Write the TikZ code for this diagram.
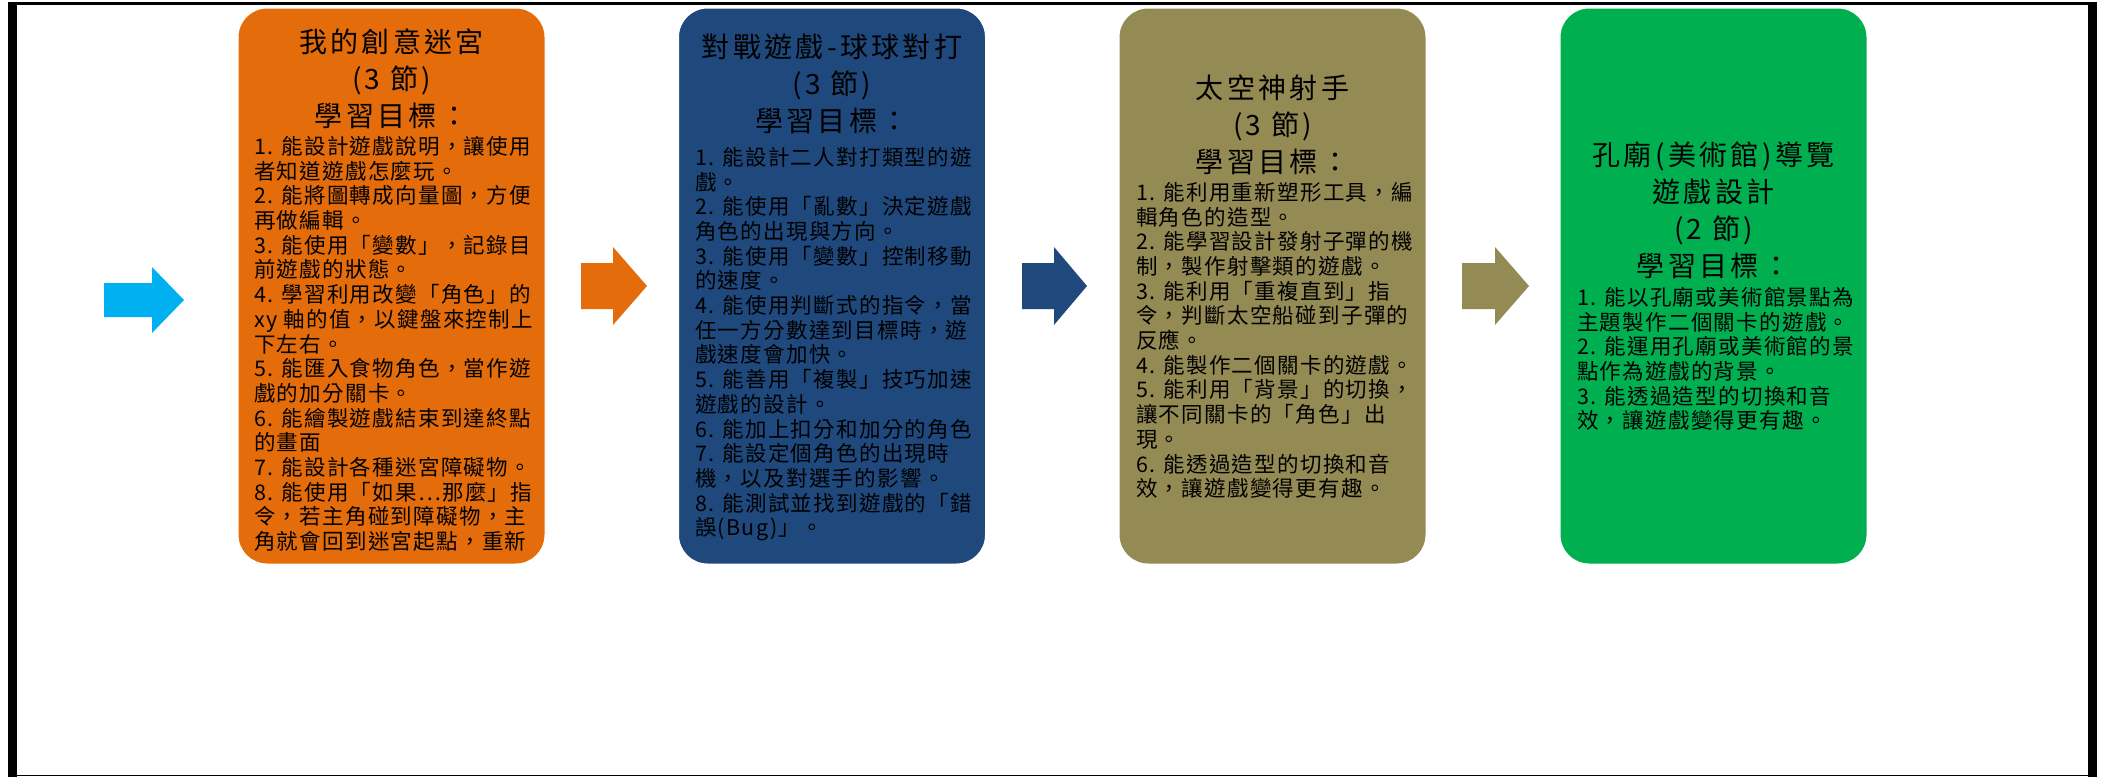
\documentclass[tikz,border=0pt]{standalone}
\usepackage{fontspec}
\setmainfont{Noto Sans CJK TC}
\newfontfamily\bodyfont[LetterSpace=6]{Noto Sans CJK TC}
\newfontfamily\headfont[LetterSpace=12]{Noto Sans CJK TC}
\definecolor{cOrange}{HTML}{E46C0A}
\definecolor{cBlue}{HTML}{1F497D}
\definecolor{cOlive}{HTML}{948A54}
\definecolor{cGreen}{HTML}{00B050}
\definecolor{cSky}{HTML}{00B0F0}
\begin{document}
\begin{tikzpicture}[x=1pt,y=-1pt,
  card/.style={draw=white,line width=3pt,rounded corners=30pt,minimum width=309pt,minimum height=558pt,inner sep=0pt},
  head/.style={anchor=north,align=center,inner sep=0pt,font=\headfont\fontsize{28}{37}\selectfont},
  body/.style={anchor=north west,align=left,inner sep=0pt,font=\bodyfont\fontsize{21.5}{24.7}\selectfont},
]
\useasboundingbox (0,0) rectangle (2105,777);
% frame
\fill (8,3) rectangle (17,777);
\fill (2088,3) rectangle (2097,777);
\draw[line width=3pt] (8,3.5) -- (2097,3.5);
\draw[line width=1.2pt] (8,775.5) -- (2097,775.5);
% cards
\node[card,fill=cOrange] (b1) at (391.5,286) {};
\node[card,fill=cBlue]   (b2) at (832,286) {};
\node[card,fill=cOlive]  (b3) at (1272.5,286) {};
\node[card,fill=cGreen]  (b4) at (1713.5,286) {};
% arrows
\fill[cSky] (104,283) -- (152,283) -- (152,267) -- (184,300) -- (152,333) -- (152,317) -- (104,317) -- cycle;
\fill[cOrange] (581,263) -- (613,263) -- (613,247) -- (647,286) -- (613,325) -- (613,309) -- (581,309) -- cycle;
\fill[cBlue] (1022,263) -- (1054,263) -- (1054,247) -- (1087,286) -- (1054,325) -- (1054,309) -- (1022,309) -- cycle;
\fill[cOlive] (1462,263) -- (1495,263) -- (1495,247) -- (1529,286) -- (1495,325) -- (1495,309) -- (1462,309) -- cycle;
% box 1
\node[head] (h1) at (391.5,29) {我的創意迷宮\\(3 節)\\學習目標：};
\node[body] (t1) at (254,136) {1. 能設計遊戲說明，讓使用\\
者知道遊戲怎麼玩。\\
2. 能將圖轉成向量圖，方便\\
再做編輯。\\
3. 能使用「變數」，記錄目\\
前遊戲的狀態。\\
4. 學習利用改變「角色」的\\
xy 軸的值，以鍵盤來控制上\\
下左右。\\
5. 能匯入食物角色，當作遊\\
戲的加分關卡。\\
6. 能繪製遊戲結束到達終點\\
的畫面\\
7. 能設計各種迷宮障礙物。\\
8. 能使用「如果…那麼」指\\
令，若主角碰到障礙物，主\\
角就會回到迷宮起點，重新};
% box 2
\node[head] (h2) at (832,34) {對戰遊戲-球球對打\\(3 節)\\學習目標：};
\node[body] (t2) at (695,147) {1. 能設計二人對打類型的遊\\
戲。\\
2. 能使用「亂數」決定遊戲\\
角色的出現與方向。\\
3. 能使用「變數」控制移動\\
的速度。\\
4. 能使用判斷式的指令，當\\
任一方分數達到目標時，遊\\
戲速度會加快。\\
5. 能善用「複製」技巧加速\\
遊戲的設計。\\
6. 能加上扣分和加分的角色\\
7. 能設定個角色的出現時\\
機，以及對選手的影響。\\
8. 能測試並找到遊戲的「錯\\
誤(Bug)」。};
% box 3
\node[head] (h3) at (1272.5,75) {太空神射手\\(3 節)\\學習目標：};
\node[body] (t3) at (1136,182) {1. 能利用重新塑形工具，編\\
輯角色的造型。\\
2. 能學習設計發射子彈的機\\
制，製作射擊類的遊戲。\\
3. 能利用「重複直到」指\\
令，判斷太空船碰到子彈的\\
反應。\\
4. 能製作二個關卡的遊戲。\\
5. 能利用「背景」的切換，\\
讓不同關卡的「角色」出\\
現。\\
6. 能透過造型的切換和音\\
效，讓遊戲變得更有趣。};
% box 4
\node[head] (h4) at (1713.5,142) {孔廟(美術館)導覽\\遊戲設計\\(2 節)\\學習目標：};
\node[body] (t4) at (1577,287) {1. 能以孔廟或美術館景點為\\
主題製作二個關卡的遊戲。\\
2. 能運用孔廟或美術館的景\\
點作為遊戲的背景。\\
3. 能透過造型的切換和音\\
效，讓遊戲變得更有趣。};
\end{tikzpicture}
\end{document}
